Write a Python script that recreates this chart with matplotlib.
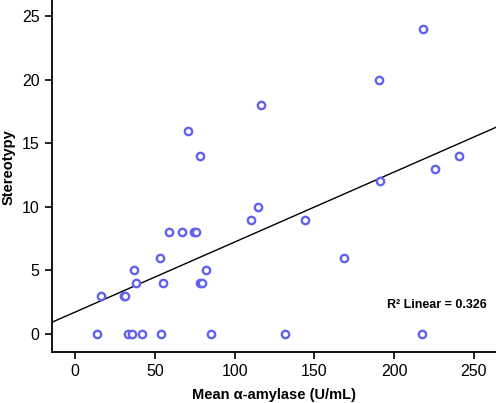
import numpy as np
import matplotlib
matplotlib.use("Agg")
from matplotlib import pyplot as plt

plt.rcParams['font.family'] = ['Liberation Sans', 'DejaVu Sans']

# mean alpha-amylase (U/mL) and stereotypy score
amylase = [14.0, 33.0, 35.5, 42.2, 53.7, 85.2, 131.4, 217.2,
           16.5, 30.5, 31.5,
           38.2, 55.1, 78.3, 79.8,
           36.8, 82.3,
           53.3, 168.5,
           58.7, 66.8, 74.5, 76.0,
           110.0, 144.0,
           114.5, 191.3, 225.8, 78.3, 240.4,
           70.6, 116.5, 190.7, 218.2]
stereotypy = [0, 0, 0, 0, 0, 0, 0, 0,
              3, 3, 3,
              4, 4, 4, 4,
              5, 5,
              6, 6,
              8, 8, 8, 8,
              9, 9,
              10, 12, 13, 14, 14,
              16, 18, 20, 24]
r2_label = "R\u00b2 Linear = 0.326"

x = np.array(amylase)
y = np.array(stereotypy)
slope, intercept = np.polyfit(x, y, 1)

fig = plt.figure(figsize=(4.96, 4.03), dpi=100)
ax = fig.add_axes([0.105, 0.127, 0.895, 0.873])

xlim = (-14.4, 263.8)
ax.set_xlim(*xlim)
ax.set_ylim(-1.42, 26.3)

xs = np.array(xlim)
ax.plot(xs, intercept + slope * xs, color="black", lw=1.0, zorder=2)
ax.plot(x, y, linestyle="none", marker="o", markersize=5.3,
        markerfacecolor="white", markeredgecolor="#6262ee", markeredgewidth=1.7, zorder=3)

ax.text(195.5, 2.3, r2_label, fontsize=9, fontweight="bold", ha="left", va="center")

ax.set_xticks([0, 50, 100, 150, 200, 250])
ax.set_yticks([0, 5, 10, 15, 20, 25])
ax.tick_params(direction="out", length=5, width=1.2, labelsize=11.5, pad=4)
ax.spines["top"].set_visible(False)
ax.spines["right"].set_visible(False)
ax.spines["left"].set_linewidth(1.3)
ax.spines["bottom"].set_linewidth(1.3)

ax.set_xlabel("Mean \u03b1-amylase (U/mL)", fontsize=10.5, fontweight="bold", labelpad=6)
ax.set_ylabel("Stereotypy", fontsize=10.5, fontweight="bold")
ax.yaxis.set_label_coords(-0.083, 0.526)

fig.savefig("out.png", dpi=100)
